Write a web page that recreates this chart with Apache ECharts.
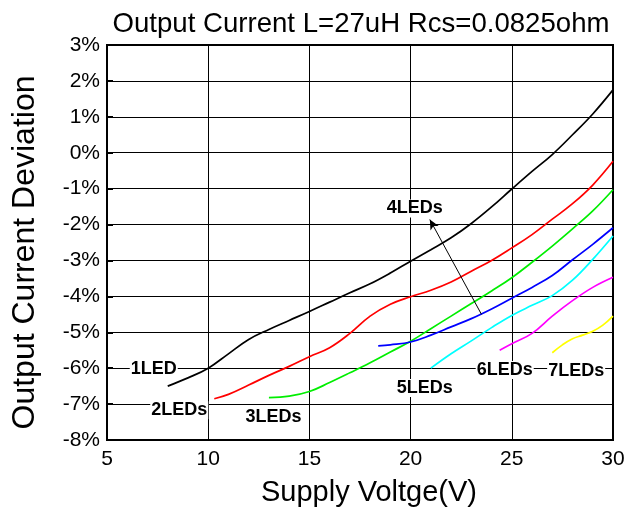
<!DOCTYPE html>
<html><head><meta charset="utf-8">
<script src="https://cdn.jsdelivr.net/npm/echarts@6/dist/echarts.min.js"></script>
<style>html,body{margin:0;padding:0;background:#fff}#c{width:638px;height:512px}</style>
</head><body><div id="c"></div>
<script>
const led1 = [[8,-6.5],[9,-6.27],[10,-6.0],[11,-5.6],[12,-5.2],[13,-4.92],[14,-4.67],[15,-4.42],[16,-4.16],[17,-3.9],[18,-3.65],[19,-3.35],[20,-3.02],[21,-2.7],[22,-2.37],[23,-1.97],[24,-1.51],[25,-1.01],[26,-0.52],[27,-0.05],[28,0.5],[29,1.08],[30,1.75]];
const led2 = [[10.3,-6.85],[11,-6.73],[12,-6.47],[13,-6.2],[14,-5.95],[15,-5.68],[16,-5.43],[17,-5.03],[18,-4.55],[19,-4.22],[20,-4.01],[21,-3.83],[22,-3.6],[23,-3.3],[24,-3.0],[25,-2.65],[26,-2.28],[27,-1.85],[28,-1.42],[29,-0.9],[30,-0.24]];
const led3 = [[13,-6.82],[14,-6.78],[15,-6.65],[16,-6.4],[17,-6.13],[18,-5.85],[19,-5.55],[20,-5.25],[21,-4.9],[22,-4.55],[23,-4.2],[24,-3.85],[25,-3.48],[26,-3.05],[27,-2.6],[28,-2.12],[29,-1.62],[30,-1.03]];
const led4 = [[18.4,-5.38],[19,-5.35],[20,-5.27],[21,-5.08],[22,-4.85],[23,-4.62],[24,-4.35],[25,-4.05],[26,-3.75],[27,-3.42],[28,-2.98],[29,-2.55],[30,-2.09]];
const led5 = [[21,-6.0],[22,-5.6],[23,-5.24],[24,-4.87],[25,-4.53],[26,-4.25],[27,-3.98],[28,-3.55],[29,-2.97],[30,-2.32]];
const led6 = [[24.4,-5.5],[25,-5.32],[26,-5.03],[27,-4.55],[28,-4.12],[29,-3.75],[30,-3.47]];
const led7 = [[27,-5.57],[27.5,-5.35],[28,-5.18],[28.5,-5.08],[29,-4.97],[29.5,-4.8],[30,-4.55]];
const seriesNames = ['1LED','2LEDs','3LEDs','4LEDs','5LEDs','6LEDs','7LEDs'];
const seriesColors = ['#000000','#ff0000','#00ee00','#0000ff','#00ffff','#ff00ff','#ffff00'];
const seriesData = [led1,led2,led3,led4,led5,led6,led7];
const labelPos = [[7.31,-6.03],[8.57,-7.17],[13.23,-7.36],[20.2,-1.55],[20.7,-6.55],[24.65,-6.05],[28.18,-6.08]];
const arrowFrom = [23.5,-4.5];
const arrowTo = [20.95,-1.86];

const FONT = 'Liberation Sans, Arial, sans-serif';
const chart = echarts.init(document.getElementById('c'));
const series = seriesData.map((d,i)=>({
  type:'line', name:seriesNames[i], data:d, smooth:0.4, showSymbol:false,
  lineStyle:{color:seriesColors[i], width:1.7}, z:3
}));
series[3].markLine = {
  silent:true, symbol:['none','arrow'], symbolSize:[7,10],
  lineStyle:{color:'#000', width:1, type:'solid'}, label:{show:false},
  data:[[{coord:arrowFrom},{coord:arrowTo}]]
};
series.push({
  type:'scatter', symbolSize:0, z:5, itemStyle:{opacity:1},
  data: labelPos.map((p,i)=>({value:p, name:seriesNames[i]})),
  label:{show:true, position:'inside', formatter:p=>p.name, color:'#000', opacity:1, fontWeight:'bold',
    fontFamily:FONT, fontSize:18, backgroundColor:'#fff', padding:[0,1]}
});
chart.setOption({
  animation:false,
  title:{text:'Output Current L=27uH Rcs=0.0825ohm', left:356, textAlign:'center', top:5,
    textStyle:{fontFamily:FONT, fontWeight:'normal', fontSize:27.6, color:'#000'}},
  grid:{left:107, right:25, top:45, bottom:71, show:true, borderColor:'#000', borderWidth:2},
  xAxis:{type:'value', min:5, max:30, interval:5, name:'Supply Voltge(V)', nameLocation:'middle', nameGap:38,
    nameTextStyle:{fontFamily:FONT, fontSize:29, color:'#000', padding:[0,0,0,18]},
    axisLine:{onZero:false, lineStyle:{color:'#000', width:2}}, axisTick:{show:false},
    axisLabel:{color:'#000', fontSize:21, fontFamily:FONT, margin:9},
    splitLine:{lineStyle:{color:'#000', width:1}}},
  yAxis:{type:'value', min:-8, max:3, interval:1, name:'Output Current Deviation', nameLocation:'middle', nameGap:66,
    nameTextStyle:{fontFamily:FONT, fontSize:32, color:'#000', padding:[0,20,0,0]},
    axisLine:{show:true, onZero:false, lineStyle:{color:'#000', width:2}}, axisTick:{show:true, inside:true, length:6, lineStyle:{color:'#000', width:2}},
    axisLabel:{color:'#000', fontSize:21, fontFamily:FONT, margin:7, formatter:v=>v+'%'},
    splitLine:{lineStyle:{color:'#000', width:1}}},
  series:series
});
</script></body></html>
